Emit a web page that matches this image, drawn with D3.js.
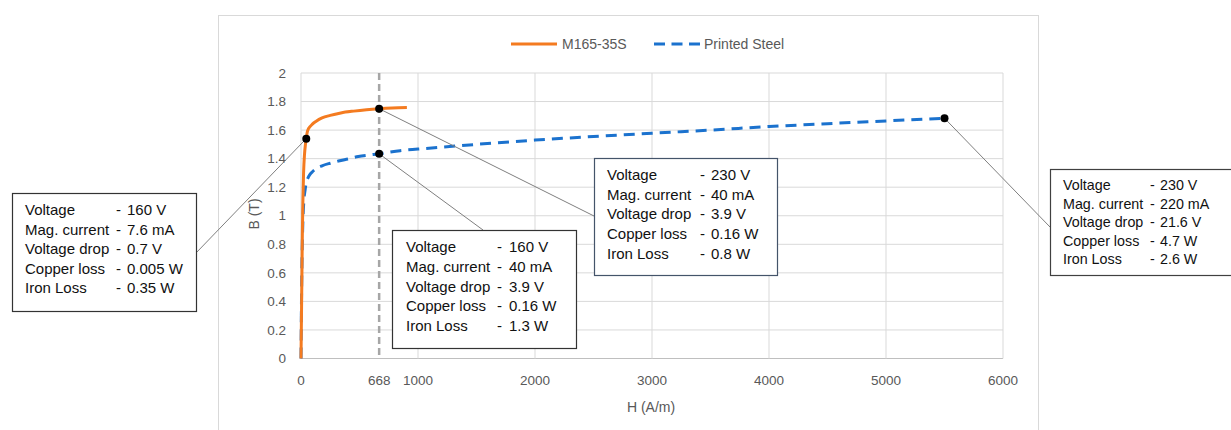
<!DOCTYPE html>
<html>
<head>
<meta charset="utf-8">
<script src="https://cdn.jsdelivr.net/npm/d3@7"></script>
<style>
  body { margin: 0; background: #fff; }
  text { font-family: "Liberation Sans", Arial, sans-serif; }
</style>
</head>
<body>
<script>
// B-H curves
const m165H = [0, 4, 8, 12, 16, 22, 30, 38, 45, 52, 60, 75, 95, 130, 180, 250, 340, 450, 560, 668, 780, 905];
const m165B = [0, 0.3, 0.6, 0.9, 1.1, 1.3, 1.43, 1.5, 1.54, 1.58, 1.603, 1.622, 1.64, 1.662, 1.685, 1.703, 1.72, 1.733, 1.743, 1.75, 1.755, 1.758];

const steelH = [0, 3, 7, 14, 24, 35, 42, 50, 60, 77, 100, 140, 180, 250, 320, 400, 490, 580, 668, 847, 1000, 1500, 2000, 2500, 3000, 3500, 4000, 4500, 5000, 5500];
const steelB = [0, 0.3, 0.6, 0.9, 1.1, 1.18, 1.22, 1.245, 1.265, 1.29, 1.31, 1.335, 1.35, 1.368, 1.383, 1.398, 1.415, 1.425, 1.434, 1.456, 1.467, 1.50, 1.53, 1.555, 1.578, 1.60, 1.625, 1.645, 1.664, 1.683];

const seriesNames = ["M165-35S", "Printed Steel"];
const xTicks = [0, 668, 1000, 2000, 3000, 4000, 5000, 6000];
const xGrid = [0, 1000, 2000, 3000, 4000, 5000, 6000];
const yTicks = [0, 0.2, 0.4, 0.6, 0.8, 1, 1.2, 1.4, 1.6, 1.8, 2];
const markH = 668;

// annotation callouts
const annoLabels = ["Voltage", "Mag. current", "Voltage drop", "Copper loss", "Iron Loss"];
const annoValues = [
  ["160 V", "7.6 mA", "0.7 V", "0.005 W", "0.35 W"],
  ["160 V", "40 mA", "3.9 V", "0.16 W", "1.3 W"],
  ["230 V", "40 mA", "3.9 V", "0.16 W", "0.8 W"],
  ["230 V", "220 mA", "21.6 V", "4.7 W", "2.6 W"]
];
const annoSeries = [0, 1, 0, 1];
const annoH = [45, 668, 668, 5500];

const W = 1231, H = 430;
const svg = d3.select("body").append("svg").attr("width", W).attr("height", H);

// chart frame
svg.append("rect").attr("x", 218.5).attr("y", 15.5).attr("width", 820).attr("height", 430)
  .attr("fill", "none").attr("stroke", "#d9d9d9");

const x = d3.scaleLinear().domain([0, 6000]).range([301, 1003]);
const y = d3.scaleLinear().domain([0, 2]).range([358.5, 73]);

// grid
svg.selectAll(".hg").data(yTicks).enter().append("line")
  .attr("x1", x(0)).attr("x2", x(6000))
  .attr("y1", d => y(d)).attr("y2", d => y(d))
  .attr("stroke", d => d === 0 ? "#bfbfbf" : "#d9d9d9").attr("stroke-width", 1);
svg.selectAll(".vg").data(xGrid).enter().append("line")
  .attr("x1", d => x(d)).attr("x2", d => x(d))
  .attr("y1", y(0)).attr("y2", y(2))
  .attr("stroke", "#d9d9d9").attr("stroke-width", 1);

// tick labels
svg.selectAll(".yt").data(yTicks).enter().append("text")
  .attr("x", 286).attr("y", d => y(d)).attr("dy", "0.35em")
  .attr("text-anchor", "end").attr("font-size", 13.5).attr("fill", "#595959")
  .text(d => d3.format("~g")(d));
svg.selectAll(".xt").data(xTicks).enter().append("text")
  .attr("x", d => x(d)).attr("y", 380).attr("dy", "0.35em")
  .attr("text-anchor", "middle").attr("font-size", 13.5).attr("fill", "#595959")
  .text(d => d);

// axis titles
svg.append("text").attr("x", 651).attr("y", 407).attr("dy", "0.35em")
  .attr("text-anchor", "middle").attr("font-size", 14).attr("fill", "#595959").text("H (A/m)");
svg.append("text").attr("transform", "translate(254,214) rotate(-90)").attr("dy", "0.35em")
  .attr("text-anchor", "middle").attr("font-size", 14).attr("fill", "#595959").text("B (T)");

// 668 A/m marker
svg.append("line").attr("x1", x(markH)).attr("x2", x(markH)).attr("y1", y(2)).attr("y2", y(0))
  .attr("stroke", "#a6a6a6").attr("stroke-width", 2.5).attr("stroke-dasharray", "7,4");

const line = d3.line().x(d => x(d[0])).y(d => y(d[1])).curve(d3.curveMonotoneX);
const m165 = m165H.map((h, i) => [h, m165B[i]]);
const steel = steelH.map((h, i) => [h, steelB[i]]);
const colors = ["#F47B20", "#1B72CE"];

svg.append("path").datum(steel).attr("d", line).attr("fill", "none")
  .attr("stroke", colors[1]).attr("stroke-width", 3).attr("stroke-dasharray", "11,7");
svg.append("path").datum(m165).attr("d", line).attr("fill", "none")
  .attr("stroke", colors[0]).attr("stroke-width", 3);

// legend
svg.append("line").attr("x1", 511).attr("x2", 557).attr("y1", 44).attr("y2", 44)
  .attr("stroke", colors[0]).attr("stroke-width", 3);
svg.append("text").attr("x", 562).attr("y", 44).attr("dy", "0.35em")
  .attr("font-size", 14).attr("fill", "#595959").text(seriesNames[0]);
svg.append("line").attr("x1", 654).attr("x2", 700).attr("y1", 44).attr("y2", 44)
  .attr("stroke", colors[1]).attr("stroke-width", 3).attr("stroke-dasharray", "11,6.5");
svg.append("text").attr("x", 704).attr("y", 44).attr("dy", "0.35em")
  .attr("font-size", 14).attr("fill", "#595959").text(seriesNames[1]);

// callout boxes
const boxes = [
  { x: 12, y: 193, w: 184, h: 118, ax: 196, ay: 253, fs: 15, lh: 19.5, t: 17, lx: 13, dx: 104, vx: 115, c: "#333" },
  { x: 392, y: 230, w: 184, h: 118, ax: 483, ay: 230, fs: 15, lh: 19.7, t: 17, lx: 14, dx: 105, vx: 117, c: "#333" },
  { x: 594, y: 158, w: 183, h: 117, ax: 594, ay: 216, fs: 15, lh: 19.6, t: 17, lx: 13, dx: 106, vx: 117, c: "#44546A" },
  { x: 1050, y: 169, w: 190, h: 106, ax: 1050, ay: 227, fs: 14.3, lh: 18.5, t: 16, lx: 13, dx: 100, vx: 110, c: "#404040" }
];

boxes.forEach((b, i) => {
  const hs = annoSeries[i] === 0 ? m165H : steelH;
  const bs = annoSeries[i] === 0 ? m165B : steelB;
  const px = x(annoH[i]), py = y(bs[hs.indexOf(annoH[i])]);
  svg.append("line").attr("x1", px).attr("y1", py).attr("x2", b.ax).attr("y2", b.ay)
    .attr("stroke", "#7f7f7f").attr("stroke-width", 1);
  svg.append("circle").attr("cx", px).attr("cy", py).attr("r", 4).attr("fill", "#000");
  svg.append("rect").attr("x", b.x + 0.5).attr("y", b.y + 0.5).attr("width", b.w).attr("height", b.h)
    .attr("fill", "#fff").attr("stroke", b.c).attr("stroke-width", 1.2);
  const g = svg.append("g").attr("font-size", b.fs).attr("fill", "#111");
  annoLabels.forEach((lab, j) => {
    const ty = b.y + b.t + j * b.lh;
    g.append("text").attr("x", b.x + b.lx).attr("y", ty).attr("dy", "0.35em").text(lab);
    g.append("text").attr("x", b.x + b.dx).attr("y", ty).attr("dy", "0.35em").text("-");
    g.append("text").attr("x", b.x + b.vx).attr("y", ty).attr("dy", "0.35em").text(annoValues[i][j]);
  });
});
</script>
</body>
</html>
